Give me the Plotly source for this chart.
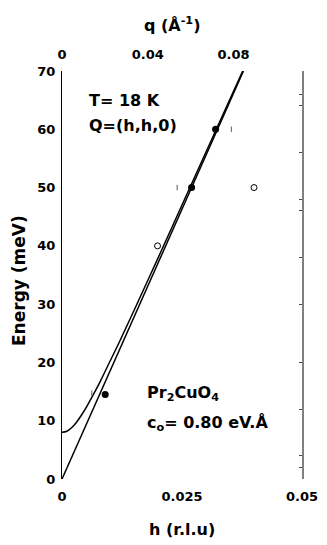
import plotly.graph_objects as go

# ---- data ----
h_filled = [0.0090, 0.0270, 0.0320]
E_filled = [14.5, 50.0, 60.0]

h_open = [0.0199, 0.0400]
E_open = [40.0, 50.0]

h_err = [0.0062, 0.0240, 0.0353]
E_err = [14.7, 50.0, 60.0]

# linear (acoustic) dispersion
h_lin = [0.0, 0.0378]
E_lin = [0.0, 70.0]

# gapped dispersion curve
h_gap = [0.0, 0.001, 0.002, 0.003, 0.004, 0.005, 0.006, 0.007, 0.008, 0.010, 0.012,
         0.015, 0.020, 0.025, 0.030, 0.03765]
E_gap = [8.0, 8.2, 8.8, 9.7, 10.9, 12.2, 13.7, 15.2, 16.8, 20.2, 23.6,
         28.9, 37.9, 47.0, 56.1, 70.0]

x_ticks = [0, 0.025, 0.05]
x_ticklabels = ["0", "0.025", "0.05"]
y_ticks = [0, 10, 20, 30, 40, 50, 60, 70]
q_ticks = [0, 0.04, 0.08]
q_ticklabels = ["0", "0.04", "0.08"]
q_max = 0.112
right_ticks = [1.9, 4, 12, 20, 30, 38, 46, 48, 56, 64, 66]

FONT = "DejaVu Sans, Liberation Sans, Arial, sans-serif"

fig = go.Figure()

fig.add_trace(go.Scatter(x=h_gap, y=E_gap, mode="lines", line=dict(color="black", width=1.5, shape="spline"),
                         hoverinfo="skip", showlegend=False))
fig.add_trace(go.Scatter(x=h_lin, y=E_lin, mode="lines", line=dict(color="black", width=1.5),
                         hoverinfo="skip", showlegend=False))
fig.add_trace(go.Scatter(x=h_err, y=E_err, mode="markers",
                         marker=dict(symbol="line-ns", size=4, line=dict(color="#777777", width=1.2)),
                         showlegend=False))
fig.add_trace(go.Scatter(x=h_open, y=E_open, mode="markers",
                         marker=dict(symbol="circle", size=6, color="white", line=dict(color="black", width=1)),
                         showlegend=False))
fig.add_trace(go.Scatter(x=h_filled, y=E_filled, mode="markers",
                         marker=dict(symbol="circle", size=7, color="black", line=dict(color="black", width=0)),
                         showlegend=False))

# dummy trace for top axis
fig.add_trace(go.Scatter(x=[0, q_max], y=[None, None], xaxis="x2", yaxis="y", mode="markers",
                         showlegend=False, hoverinfo="skip"))
# dummy trace for right axis
fig.add_trace(go.Scatter(x=[None], y=[None], xaxis="x", yaxis="y2", mode="markers",
                         showlegend=False, hoverinfo="skip"))

tick_font = dict(family=FONT, size=13, color="black", weight="bold")

# the page body has an 8px default margin, so the figure is 8px smaller
fig.update_layout(
    width=319, height=537,
    margin=dict(l=54, r=25, t=63, b=66, autoexpand=False),
    paper_bgcolor="white", plot_bgcolor="white",
    font=dict(family=FONT, color="black", size=13, weight="bold"),
    xaxis=dict(range=[0, 0.05], tickvals=x_ticks, ticktext=x_ticklabels, showgrid=False, zeroline=False,
               showline=False, ticks="", tickfont=tick_font, automargin=False, ticklabelstandoff=8),
    xaxis2=dict(range=[0, q_max], overlaying="x", side="top", tickvals=q_ticks, ticktext=q_ticklabels,
                showgrid=False, zeroline=False, showline=False, ticks="", tickfont=tick_font,
                automargin=False, ticklabelstandoff=8),
    yaxis=dict(range=[0, 70], tickvals=y_ticks, showgrid=False, zeroline=False, showline=True,
               linecolor="black", linewidth=1, ticks="", tickfont=tick_font, automargin=False,
               ticklabelstandoff=3),
    yaxis2=dict(range=[0, 70], overlaying="y", side="right", tickvals=right_ticks, showticklabels=False,
                showgrid=False, zeroline=False, showline=True, linecolor="#808080", linewidth=2,
                ticks="inside", ticklen=3, tickcolor="#444444", tickwidth=1, automargin=False),
)

title_font = dict(family=FONT, size=16, color="black", weight="bold")
fig.add_annotation(x=0.5, y=0, xref="paper", yref="paper", text="h (r.l.u)", showarrow=False,
                   xanchor="center", yanchor="middle", yshift=-50, font=title_font)
fig.add_annotation(x=0.5, y=1, xref="paper", yref="paper", text="q (Å<sup>-1</sup>)", showarrow=False,
                   xanchor="center", yanchor="middle", yshift=47, xshift=-10, font=title_font)
fig.add_annotation(x=0, y=0.5, xref="paper", yref="paper", text="Energy (meV)", showarrow=False,
                   textangle=-90, xanchor="center", yanchor="middle", xshift=-43, yshift=-6,
                   font=dict(family=FONT, size=17, color="black", weight="bold"))

ann_font = dict(family=FONT, size=16, color="black", weight="bold")
fig.add_annotation(x=0.0053, y=65.0, xref="x", yref="y", text="T= 18 K", showarrow=False,
                   xanchor="left", yanchor="middle", font=ann_font)
fig.add_annotation(x=0.0053, y=60.7, xref="x", yref="y", text="Q=(h,h,0)", showarrow=False,
                   xanchor="left", yanchor="middle", font=ann_font)
fig.add_annotation(x=0.0172, y=14.6, xref="x", yref="y", text="Pr<sub>2</sub>CuO<sub>4</sub>", showarrow=False,
                   xanchor="left", yanchor="middle", font=ann_font)
fig.add_annotation(x=0.0172, y=9.6, xref="x", yref="y", text="c<sub>o</sub>= 0.80 eV.Å", showarrow=False,
                   xanchor="left", yanchor="middle", font=ann_font)

fig.write_html("out.html")
